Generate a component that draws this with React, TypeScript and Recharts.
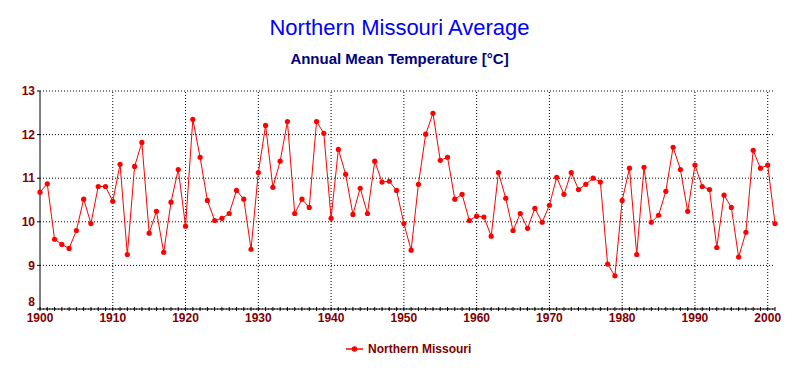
import { LineChart, Line, XAxis, YAxis, CartesianGrid, ReferenceLine } from 'recharts';

// Northern Missouri annual mean temperature, 1900-2001 (°C)
const startYear = 1900;
const temps = [
  10.68, 10.87, 9.60, 9.48, 9.39, 9.80, 10.52, 9.96, 10.81, 10.81,
  10.47, 11.32, 9.25, 11.27, 11.82, 9.74, 10.24, 9.30, 10.45, 11.20,
  9.90, 12.35, 11.48, 10.49, 10.03, 10.08, 10.19, 10.72, 10.52, 9.37,
  11.13, 12.21, 10.79, 11.39, 12.30, 10.19, 10.52, 10.33, 12.30, 12.03,
  10.08, 11.66, 11.09, 10.17, 10.77, 10.19, 11.39, 10.91, 10.93, 10.72,
  9.96, 9.35, 10.86, 12.01, 12.49, 11.41, 11.48, 10.52, 10.63, 10.03,
  10.13, 10.11, 9.67, 11.13, 10.54, 9.80, 10.19, 9.85, 10.31, 9.99,
  10.38, 11.02, 10.63, 11.13, 10.74, 10.86, 11.00, 10.91, 9.03, 8.76,
  10.49, 11.23, 9.25, 11.25, 9.99, 10.15, 10.70, 11.71, 11.20, 10.24,
  11.30, 10.81, 10.74, 9.41, 10.61, 10.33, 9.19, 9.76, 11.64, 11.23,
  11.30, 9.96,
];
const years = temps.map((_, i) => startYear + i);
const yTicks = [8, 9, 10, 11, 12, 13];
const decadeTicks = [1910, 1920, 1930, 1940, 1950, 1960, 1970, 1980, 1990, 2000];

const data = years.map((y, i) => ({ year: y, temp: temps[i] }));

const DARK_RED = '#800000';
const FONT = '"Liberation Sans", Arial, sans-serif';
const tickFont = { fontFamily: FONT, fontSize: 12, fontWeight: 700, fill: DARK_RED };

// y tick label; the bottom one is nudged up so it clears the 1900 label
function YTick(props: any) {
  const { x, y, payload } = props;
  const shift = payload.value === 8 ? -7 : 0;
  return (
    <text x={x} y={y + shift} dy="0.355em" textAnchor="end" {...tickFont}>
      {payload.value}
    </text>
  );
}

export default function App() {
  return (
    <div style={{ position: 'absolute', left: 0, top: 0, width: 799, height: 370, background: '#FFFFFF' }}>
      <div style={{ position: 'absolute', left: 0, width: 799, top: 15, textAlign: 'center',
        fontFamily: FONT, fontSize: 22, color: '#0000FF' }}>
        Northern Missouri Average
      </div>
      <div style={{ position: 'absolute', left: 0, width: 799, top: 50, textAlign: 'center',
        fontFamily: FONT, fontSize: 15, fontWeight: 700, color: '#000080' }}>
        Annual Mean Temperature [°C]
      </div>
      <div style={{ position: 'absolute', left: 0, top: 0 }}>
        <LineChart width={799} height={370} data={data} margin={{ top: 91, right: 24, left: 0, bottom: 41 }}>
          <CartesianGrid vertical={false} stroke="#000000" strokeDasharray="1 2" />
          {decadeTicks.map((d) => (
            <ReferenceLine key={d} x={d} stroke="#000000" strokeDasharray="1 2" />
          ))}
          <XAxis
            dataKey="year"
            type="number"
            domain={[1900, 2001]}
            ticks={years}
            interval={0}
            tickFormatter={(v: number) => (v % 10 === 0 ? String(v) : '')}
            axisLine={{ stroke: '#000000' }}
            tickLine={{ stroke: '#000000', transform: 'translate(0,-2)' }}
            tickSize={4}
            tickMargin={0}
            height={20}
            tick={tickFont}
          />
          <YAxis
            type="number"
            domain={[8, 13]}
            ticks={yTicks}
            interval={0}
            width={40}
            axisLine={{ stroke: '#000000' }}
            tickLine={{ stroke: '#000000' }}
            tickSize={3}
            tickMargin={2}
            tick={<YTick />}
          />
          <Line
            type="linear"
            dataKey="temp"
            name="Northern Missouri"
            stroke="#FF0000"
            strokeWidth={1}
            dot={{ r: 2.6, fill: '#FF0000', stroke: 'none' }}
            isAnimationActive={false}
          />
        </LineChart>
      </div>
      <div style={{ position: 'absolute', left: 345, top: 342, display: 'flex', alignItems: 'center' }}>
        <svg width={20} height={8} style={{ marginRight: 3 }}>
          <line x1={1} y1={4} x2={18} y2={4} stroke="#FF0000" strokeWidth={1.5} />
          <circle cx={9.5} cy={4} r={2.8} fill="#FF0000" />
        </svg>
        <span style={{ fontFamily: FONT, fontSize: 12, fontWeight: 700, color: DARK_RED }}>
          Northern Missouri
        </span>
      </div>
    </div>
  );
}
